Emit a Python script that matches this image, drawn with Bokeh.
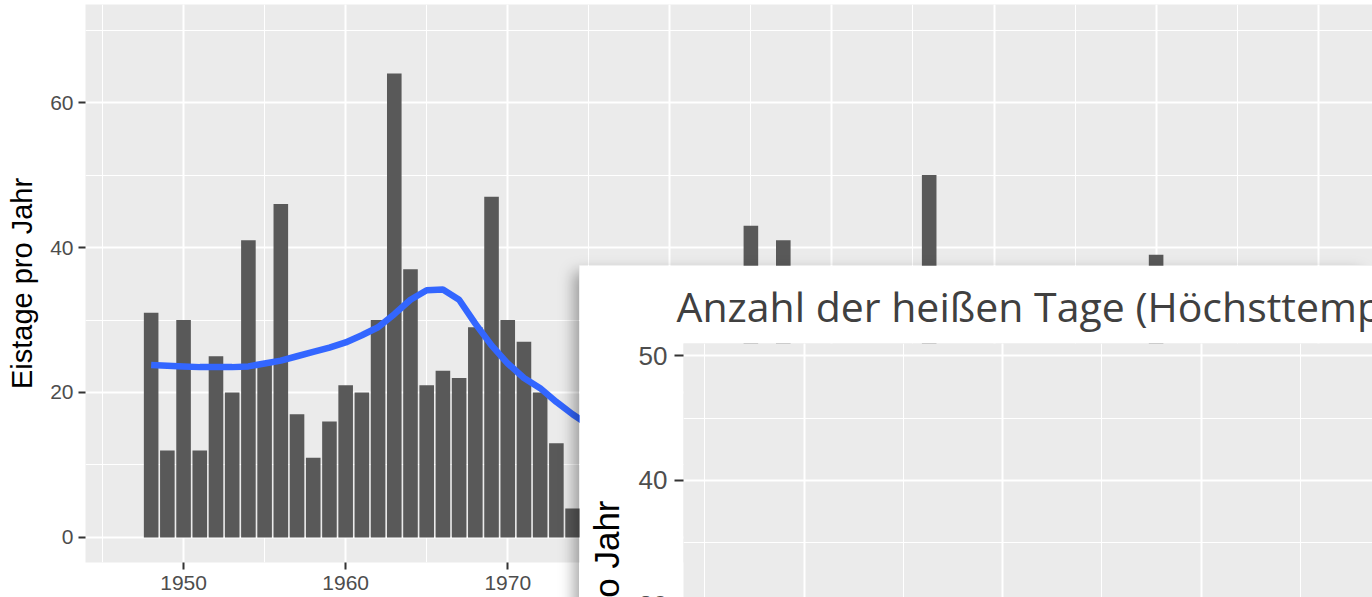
from bokeh.plotting import figure
from bokeh.models import Range1d, SingleIntervalTicker, FixedTicker, GlobalInlineStyleSheet
from bokeh.embed import file_html
from bokeh.resources import INLINE

# ---- data ----
years = [1948, 1949, 1950, 1951, 1952, 1953, 1954, 1955, 1956, 1957, 1958, 1959,
         1960, 1961, 1962, 1963, 1964, 1965, 1966, 1967, 1968, 1969, 1970, 1971,
         1972, 1973, 1974, 1985, 1987, 1996, 2010]
eistage = [31, 12, 30, 12, 25, 20, 41, 24, 46, 17, 11, 16,
           21, 20, 30, 64, 37, 21, 23, 22, 29, 47, 30, 27,
           20, 13, 4, 43, 41, 50, 39]

smooth_years = [1948, 1949, 1950, 1951, 1952, 1953, 1954, 1955, 1956, 1957, 1958,
                1959, 1960, 1961, 1962, 1963, 1964, 1965, 1966, 1967, 1968, 1969,
                1970, 1971, 1972, 1973, 1974, 1975]
smooth_vals = [23.8, 23.7, 23.6, 23.5, 23.5, 23.5, 23.6, 24.0, 24.4, 25.0, 25.6,
               26.2, 26.9, 27.9, 29.0, 30.8, 32.8, 34.1, 34.2, 32.8, 29.5, 26.5,
               24.0, 22.0, 20.6, 18.7, 17.0, 15.5]

# x tick labels hidden underneath the second window
hidden_x_labels = [1980, 1990, 2000, 2010, 2020]

title2 = "Anzahl der heißen Tage (Höchsttemperatur ≥ 30 °C)"
ylabel1 = "Eistage pro Jahr"
ylabel2 = "Tage pro Jahr"
y2_ticks = [30, 40, 50]
y2_minor = [35, 45]

FONT = "Liberation Sans"

# ---- first chart ----
p1 = figure(width=1372, height=597, output_backend="svg", toolbar_location=None,
            x_range=Range1d(1943.95, 2023.35), y_range=Range1d(-3.45, 73.52),
            min_border_left=85, min_border_right=0, min_border_top=4, min_border_bottom=35,
            background_fill_color="#EBEBEB", border_fill_color="white",
            outline_line_color=None,
            styles={"position": "absolute", "left": "0px", "top": "0px", "z-index": "0"},
            stylesheets=[GlobalInlineStyleSheet(css="html, body {overflow: hidden !important;}")])

xt1 = SingleIntervalTicker(interval=10, num_minor_ticks=2)
yt1 = SingleIntervalTicker(interval=20, num_minor_ticks=2)
p1.xaxis.ticker = xt1
p1.yaxis.ticker = yt1
p1.xgrid.ticker = xt1
p1.ygrid.ticker = yt1

for ax in p1.axis:
    ax.axis_line_color = None
    ax.major_tick_line_color = "#333333"
    ax.major_tick_line_width = 2
    ax.major_tick_in = 0
    ax.major_tick_out = 7
    ax.minor_tick_line_color = None
    ax.major_label_text_font = FONT
    ax.major_label_text_font_size = "21px"
    ax.major_label_text_color = "#4D4D4D"
p1.xaxis.major_label_standoff = 6
p1.xaxis.major_label_overrides = {yr: "" for yr in hidden_x_labels}
p1.yaxis.major_label_standoff = 5
p1.yaxis.axis_label = ylabel1
p1.yaxis.axis_label_text_font = FONT
p1.yaxis.axis_label_text_font_size = "29px"
p1.yaxis.axis_label_text_font_style = "normal"
p1.yaxis.axis_label_text_color = "black"
p1.yaxis.axis_label_standoff = 9

p1.grid.grid_line_color = "white"
p1.grid.grid_line_width = 2
p1.grid.minor_grid_line_color = "white"
p1.grid.minor_grid_line_width = 1

p1.vbar(x=years, top=eistage, width=0.9, bottom=0, fill_color="#595959", line_color=None)
p1.line(x=smooth_years, y=smooth_vals, line_color="#3366FF", line_width=6.5)

# ---- second chart (overlapping window) ----
p2 = figure(width=793, height=606, output_backend="svg", toolbar_location=None,
            x_range=Range1d(1943.93, 1978.62), y_range=Range1d(8.52, 51.0),
            x_axis_location=None,
            min_border_left=104, min_border_right=0, min_border_top=78, min_border_bottom=0,
            background_fill_color="#EBEBEB", border_fill_color="white",
            outline_line_color=None,
            styles={"position": "absolute", "left": "579px", "top": "265px", "z-index": "5",
                    "box-shadow": "-8px 4px 14px -3px rgba(0,0,0,0.35)"})

p2.title.text = title2
p2.title.text_font = "Open Sans"
p2.title.text_font_size = "41px"
p2.title.text_font_style = "normal"
p2.title.text_color = "#404040"
p2.title.align = "left"
p2.title.offset = -7
p2.title.standoff = 19

yt2 = FixedTicker(ticks=y2_ticks, minor_ticks=y2_minor)
xt2 = SingleIntervalTicker(interval=10, num_minor_ticks=2)
p2.yaxis.ticker = yt2
p2.ygrid.ticker = yt2
p2.xgrid.ticker = xt2
p2.yaxis.axis_line_color = None
p2.yaxis.major_tick_line_color = "#333333"
p2.yaxis.major_tick_line_width = 2
p2.yaxis.major_tick_in = 0
p2.yaxis.major_tick_out = 9
p2.yaxis.minor_tick_line_color = None
p2.yaxis.major_label_standoff = 7
p2.yaxis.major_label_text_font = FONT
p2.yaxis.major_label_text_font_size = "26px"
p2.yaxis.major_label_text_color = "#4D4D4D"
p2.yaxis.axis_label = ylabel2
p2.yaxis.axis_label_text_font = FONT
p2.yaxis.axis_label_text_font_size = "35px"
p2.yaxis.axis_label_text_font_style = "normal"
p2.yaxis.axis_label_text_color = "black"
p2.yaxis.axis_label_standoff = 10

p2.grid.grid_line_color = "white"
p2.grid.grid_line_width = 2
p2.grid.minor_grid_line_color = "white"
p2.grid.minor_grid_line_width = 1

open("out.html", "w").write(file_html([p1, p2], INLINE))
